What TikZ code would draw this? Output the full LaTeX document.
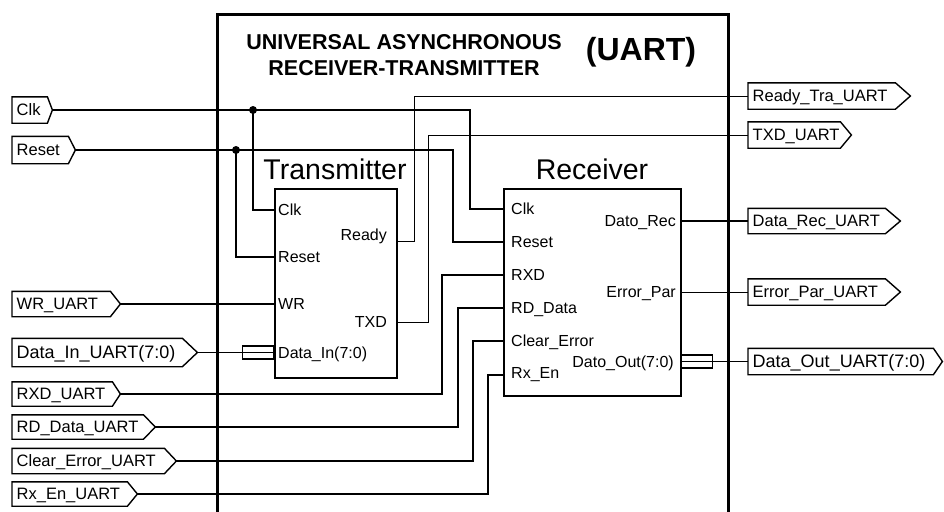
\documentclass[tikz,border=0pt]{standalone}
\usepackage{fontspec}
\setmainfont{Liberation Sans}
\newcommand\portoutline[2]{\draw[portline] (#1.north west) -- ([xshift=-#2pt]#1.north east) -- (#1.east) -- ([xshift=-#2pt]#1.south east) -- (#1.south west) -- cycle;}
\tikzset{
  wire/.style={line width=1.8pt},
  twire/.style={line width=1pt},
  outerbox/.style={line width=3pt},
  blockbox/.style={draw, line width=2.2pt, inner sep=0pt},
  portline/.style={line width=1.4pt, line join=miter},
  port/.style={inner xsep=4.5pt, inner ysep=0pt, align=left,
    font=\fontsize{16.5}{18}\selectfont, text height=11.8pt, text depth=0pt},
  wideport/.style={port, font=\fontsize{18}{20}\selectfont, text height=12.9pt},
  pinlbl/.style={inner sep=0pt, font=\fontsize{16}{18}\selectfont,
    text height=11.5pt, text depth=0pt},
  bustube/.style={draw, line width=1.2pt, inner sep=0pt, minimum height=13pt},
  jdot/.style={circle, fill, inner sep=0pt, minimum size=8pt},
}
\begin{document}
\begin{tikzpicture}[x=1pt, y=-1pt]
\useasboundingbox (0,0) rectangle (944,511);

% outer frame
\draw[outerbox] (217,520) -- (217,15) -- (728,15) -- (728,520);
\node[font=\bfseries\fontsize{21.5}{26}\selectfont, align=center] (title) at (404,55)
  {UNIVERSAL ASYNCHRONOUS\\RECEIVER-TRANSMITTER};
\node[font=\bfseries\fontsize{32}{36}\selectfont] (uart) at (641,52) {(UART)};

% blocks
\node[blockbox, minimum width=122pt, minimum height=189pt, anchor=north west] (tx) at (274,188) {};
\node[blockbox, minimum width=177pt, minimum height=207pt, anchor=north west] (rx) at (503,188) {};
\node[font=\fontsize{28.5}{32}\selectfont] (txtitle) at (335,169) {Transmitter};
\node[font=\fontsize{28.5}{32}\selectfont] (rxtitle) at (592,169) {Receiver};

% pin coordinates
\coordinate (txclk) at (274,210);
\coordinate (txrst) at (274,257);
\coordinate (txwr)  at (274,304);
\coordinate (txdin) at (274,352.5);
\coordinate (txrdy) at (396,241);
\coordinate (txtxd) at (396,322);
\coordinate (rxclk) at (503,209);
\coordinate (rxrst) at (503,242);
\coordinate (rxrxd) at (503,275);
\coordinate (rxrd)  at (503,308);
\coordinate (rxce)  at (503,341);
\coordinate (rxen)  at (503,375);
\coordinate (rxdrec) at (680,221);
\coordinate (rxerr) at (680,292);
\coordinate (rxdout) at (680,361.5);

% pin labels
\node[pinlbl, anchor=west, xshift=4pt] (ltxclk) at (txclk) {Clk};
\node[pinlbl, anchor=west, xshift=4pt] (ltxrst) at (txrst) {Reset};
\node[pinlbl, anchor=west, xshift=4pt] (ltxwr) at (txwr) {WR};
\node[pinlbl, anchor=west, xshift=4pt] (ltxdin) at (txdin) {Data\_In(7:0)};
\node[pinlbl, anchor=east, xshift=-9pt, yshift=6pt] (ltxrdy) at (txrdy) {Ready};
\node[pinlbl, anchor=east, xshift=-9pt] (ltxtxd) at (txtxd) {TXD};
\node[pinlbl, anchor=west, xshift=8pt] (lrxclk) at (rxclk) {Clk};
\node[pinlbl, anchor=west, xshift=8pt] (lrxrst) at (rxrst) {Reset};
\node[pinlbl, anchor=west, xshift=8pt] (lrxrxd) at (rxrxd) {RXD};
\node[pinlbl, anchor=west, xshift=8pt] (lrxrd) at (rxrd) {RD\_Data};
\node[pinlbl, anchor=west, xshift=8pt] (lrxce) at (rxce) {Clear\_Error};
\node[pinlbl, anchor=west, xshift=8pt, yshift=2pt] (lrxen) at (rxen) {Rx\_En};
\node[pinlbl, anchor=east, xshift=-4pt] (lrxdrec) at (rxdrec) {Dato\_Rec};
\node[pinlbl, anchor=east, xshift=-4pt] (lrxerr) at (rxerr) {Error\_Par};
\node[pinlbl, anchor=east, xshift=-6pt] (lrxdout) at (rxdout) {Dato\_Out(7:0)};

% ports (inputs)
\node[port, text width=31pt,  minimum height=26pt, anchor=west] (pclk)   at (12,110) {Clk};
\node[port, text width=54pt,  minimum height=27pt, anchor=west] (preset) at (12,150) {Reset};
\node[port, text width=99pt,  minimum height=25pt, anchor=west] (pwr)    at (12,304) {WR\_UART};
\node[wideport, text width=176pt, minimum height=28pt, anchor=west] (pdin)   at (12,352.5) {Data\_In\_UART(7:0)};
\node[port, text width=99pt,  minimum height=24pt, anchor=west] (prxd)   at (12,394) {RXD\_UART};
\node[port, text width=134pt, minimum height=24pt, anchor=west] (prd)    at (12,427) {RD\_Data\_UART};
\node[port, text width=155pt, minimum height=25pt, anchor=west] (pce)    at (12,461) {Clear\_Error\_UART};
\node[port, text width=116pt, minimum height=24pt, anchor=west] (pen)    at (12,494) {Rx\_En\_UART};
% ports (outputs)
\node[port, text width=153pt, minimum height=26pt, anchor=west] (prdy)   at (748,96) {Ready\_Tra\_UART};
\node[port, text width=94pt,  minimum height=26pt, anchor=west] (ptxd)   at (748,135) {TXD\_UART};
\node[port, text width=143pt, minimum height=25pt, anchor=west] (pdrec)  at (748,221) {Data\_Rec\_UART};
\node[port, text width=143pt, minimum height=26pt, anchor=west] (perr)   at (748,292) {Error\_Par\_UART};
\node[wideport, text width=185pt, minimum height=26pt, anchor=west] (pdout)  at (748,361.5) {Data\_Out\_UART(7:0)};

\portoutline{pclk}{5}
\portoutline{preset}{7}
\portoutline{pwr}{10}
\portoutline{pdin}{15}
\portoutline{prxd}{8}
\portoutline{prd}{12}
\portoutline{pce}{12}
\portoutline{pen}{10}
\portoutline{prdy}{15}
\portoutline{ptxd}{11}
\portoutline{pdrec}{15}
\portoutline{perr}{15}
\portoutline{pdout}{9}

% bus tubes
\node[bustube, minimum width=31pt, anchor=east] (busin) at (txdin) {};
\draw[line width=1pt] (busin.west) -- (busin.east);
\node[bustube, minimum width=32pt, anchor=west] (busout) at (rxdout) {};
\draw[line width=1pt] (busout.west) -- (busout.east);

% junctions
\coordinate (jclk) at (253,110);
\coordinate (jrst) at (236,150);
\node[jdot] (dclk) at (jclk) {};
\node[jdot] (drst) at (jrst) {};

% connectors
\draw[wire] (pclk.east) -- (470,110) |- (rxclk);
\draw[wire] (jclk) |- (txclk);
\draw[wire] (preset.east) -- (453,150) |- (rxrst);
\draw[wire] (jrst) |- (txrst);
\draw[wire] (pwr.east) -- (txwr);
\draw[wire] (pdin.east) -- (busin.west);
\draw[twire] (txrdy) -- (414,241) |- (prdy.west);
\draw[twire] (txtxd) -- (428,322) |- (ptxd.west);
\draw[wire] (prxd.east) -- (442,394) |- (rxrxd);
\draw[wire] (prd.east) -- (458,427) |- (rxrd);
\draw[wire] (pce.east) -- (473,461) |- (rxce);
\draw[wire] (pen.east) -- (488,494) |- (rxen);
\draw[wire] (rxdrec) -- (pdrec.west);
\draw[twire] (rxerr) -- (perr.west);
\draw[wire] (busout.east) -- (pdout.west);
\end{tikzpicture}
\end{document}
